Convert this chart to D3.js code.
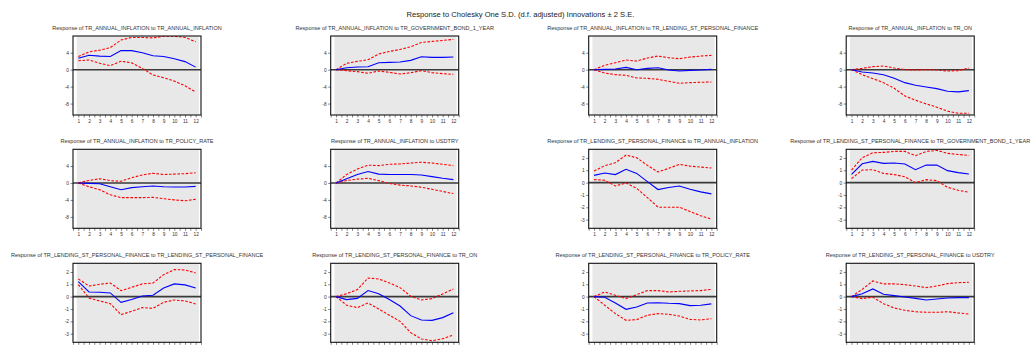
<!DOCTYPE html>
<html>
<head>
<meta charset="utf-8">
<script src="https://cdn.jsdelivr.net/npm/d3@7"></script>
<style>
  body { margin: 0; background: #fff; }
  svg { display: block; font-family: "Liberation Sans", Arial, sans-serif; }
</style>
</head>
<body>
<svg id="chart" width="1031" height="346"></svg>
<script>
// Impulse-response horizon (periods)
const periods = [1, 2, 3, 4, 5, 6, 7, 8, 9, 10, 11, 12];

const mainTitle = "Response to Cholesky One S.D. (d.f. adjusted) Innovations \u00b1 2 S.E.";

const panelTitles = [
  "Response of TR_ANNUAL_INFLATION to TR_ANNUAL_INFLATION",
  "Response of TR_ANNUAL_INFLATION to TR_GOVERNMENT_BOND_1_YEAR",
  "Response of TR_ANNUAL_INFLATION to TR_LENDING_ST_PERSONAL_FINANCE",
  "Response of TR_ANNUAL_INFLATION to TR_ON",
  "Response of TR_ANNUAL_INFLATION to TR_POLICY_RATE",
  "Response of TR_ANNUAL_INFLATION to USDTRY",
  "Response of TR_LENDING_ST_PERSONAL_FINANCE to TR_ANNUAL_INFLATION",
  "Response of TR_LENDING_ST_PERSONAL_FINANCE to TR_GOVERNMENT_BOND_1_YEAR",
  "Response of TR_LENDING_ST_PERSONAL_FINANCE to TR_LENDING_ST_PERSONAL_FINANCE",
  "Response of TR_LENDING_ST_PERSONAL_FINANCE to TR_ON",
  "Response of TR_LENDING_ST_PERSONAL_FINANCE to TR_POLICY_RATE",
  "Response of TR_LENDING_ST_PERSONAL_FINANCE to USDTRY"
];

// Y tick labels for the two scale families
const inflationTicks = [4, 0, -4, -8];
const lendingTicks = [2, 1, 0, -1, -2, -3];

// --- Responses of TR_ANNUAL_INFLATION ---
const infInf_resp  = [2.7, 3.4, 3.2, 3.1, 4.5, 4.5, 4.0, 3.3, 3.1, 2.6, 1.9, 0.6];
const infInf_upper = [3.1, 4.2, 4.6, 5.2, 7.0, 7.6, 7.6, 7.5, 7.9, 7.9, 7.6, 6.6];
const infInf_lower = [2.1, 2.3, 1.5, 0.95, 2.0, 1.6, 0.3, -1.25, -1.9, -2.7, -3.8, -5.3];

const infBond_resp  = [0, 0.47, 0.63, 0.7, 1.65, 1.73, 1.8, 2.2, 3.06, 2.9, 2.9, 2.98];
const infBond_upper = [0, 1.49, 1.96, 2.35, 3.69, 4.31, 4.78, 5.41, 6.43, 6.67, 6.9, 7.14];
const infBond_lower = [0, -0.24, -0.47, -0.86, -0.31, -0.63, -1.02, -0.71, -0.24, -0.71, -0.94, -1.1];

const infLend_resp  = [0, 0.08, 0.16, 0.55, 0, 0.31, 0.47, -0.08, -0.31, -0.16, -0.08, 0.08];
const infLend_upper = [0, 1.02, 1.65, 2.27, 2.04, 2.75, 3.22, 2.82, 2.59, 2.98, 3.22, 3.37];
const infLend_lower = [0, -0.78, -1.18, -1.33, -1.96, -2.04, -2.27, -2.75, -3.22, -3.06, -2.98, -2.9];

const infOn_resp  = [0, -0.55, -0.78, -1.18, -2.04, -3.06, -3.69, -4.08, -4.47, -5.1, -5.25, -4.94];
const infOn_upper = [0, 0.31, 0.71, 0.86, 0.39, 0, -0.08, 0, -0.08, -0.31, -0.24, 0.39];
const infOn_lower = [0, -1.18, -2.12, -3.06, -4.39, -6.2, -7.22, -8.08, -8.86, -9.8, -10.27, -10.27];

const infPolicy_resp  = [0, -0.1, -0.2, -0.9, -1.6, -1.1, -0.9, -0.7, -0.9, -0.95, -0.95, -0.8];
const infPolicy_upper = [0, 0.6, 1.0, 0.55, 0.4, 1.25, 1.9, 2.3, 2.0, 2.1, 2.2, 2.4];
const infPolicy_lower = [0, -0.9, -1.6, -2.8, -3.45, -3.45, -3.45, -3.4, -3.7, -4.0, -4.2, -3.85];

const infUsd_resp  = [0, 1.0, 2.0, 2.7, 2.1, 2.0, 2.0, 2.0, 1.9, 1.5, 1.1, 0.8];
const infUsd_upper = [0, 2.0, 3.3, 4.2, 4.1, 4.4, 4.5, 4.7, 4.9, 4.7, 4.4, 4.1];
const infUsd_lower = [0, 0.6, 0.9, 1.1, 0.55, -0.1, -0.5, -0.7, -1.0, -1.5, -2.0, -2.5];

// --- Responses of TR_LENDING_ST_PERSONAL_FINANCE ---
const lendInf_resp  = [0.59, 0.78, 0.65, 1.08, 0.75, 0.08, -0.56, -0.4, -0.27, -0.54, -0.75, -0.91];
const lendInf_upper = [0.94, 1.37, 1.61, 2.23, 2.02, 1.4, 0.86, 1.16, 1.48, 1.34, 1.26, 1.18];
const lendInf_lower = [0.24, 0.19, -0.27, -0.03, -0.46, -1.21, -1.99, -1.99, -1.99, -2.34, -2.69, -2.96];

const lendBond_resp  = [0.67, 1.53, 1.72, 1.56, 1.59, 1.51, 1.05, 1.42, 1.42, 0.97, 0.81, 0.7];
const lendBond_upper = [1.02, 2.02, 2.42, 2.45, 2.53, 2.53, 2.18, 2.53, 2.61, 2.37, 2.28, 2.2];
const lendBond_lower = [0.32, 1.02, 1.05, 0.75, 0.65, 0.48, 0.0, 0.24, 0.16, -0.38, -0.62, -0.78];

const lendLend_resp  = [1.22, 0.38, 0.35, 0.3, -0.46, -0.24, 0.05, 0.11, 0.7, 1.03, 0.95, 0.7];
const lendLend_upper = [1.43, 0.86, 1.0, 1.1, 0.49, 0.76, 1.03, 1.1, 1.78, 2.19, 2.16, 1.92];
const lendLend_lower = [0.97, -0.11, -0.35, -0.57, -1.46, -1.19, -0.89, -0.95, -0.46, -0.27, -0.35, -0.59];

const lendOn_resp  = [0, -0.24, -0.14, 0.49, 0.24, -0.24, -0.76, -1.54, -1.89, -1.92, -1.7, -1.3];
const lendOn_upper = [0, 0.24, 0.57, 1.51, 1.43, 1.11, 0.73, 0.03, -0.27, -0.16, 0.22, 0.62];
const lendOn_lower = [0, -0.7, -0.89, -0.51, -1.0, -1.51, -2.0, -2.92, -3.43, -3.57, -3.41, -3.11];

const lendPolicy_resp  = [0, -0.05, -0.51, -1.03, -0.84, -0.51, -0.49, -0.54, -0.57, -0.73, -0.7, -0.59];
const lendPolicy_upper = [0, 0.38, 0.11, -0.16, 0.16, 0.49, 0.49, 0.38, 0.43, 0.46, 0.49, 0.59];
const lendPolicy_lower = [0, -0.7, -1.38, -1.92, -1.86, -1.51, -1.38, -1.43, -1.57, -1.84, -1.89, -1.78];

const lendUsd_resp  = [0, 0.24, 0.62, 0.19, 0.08, -0.03, -0.14, -0.27, -0.19, -0.11, -0.08, -0.08];
const lendUsd_upper = [0, 0.59, 1.27, 1.03, 1.03, 0.97, 0.86, 0.73, 0.86, 1.05, 1.13, 1.16];
const lendUsd_lower = [0, -0.16, -0.05, -0.57, -0.92, -1.11, -1.22, -1.27, -1.27, -1.22, -1.32, -1.41];

// Panels in reading order (row by row)
const panels = [
  { title: panelTitles[0],  ticks: inflationTicks, resp: infInf_resp,     upper: infInf_upper,     lower: infInf_lower },
  { title: panelTitles[1],  ticks: inflationTicks, resp: infBond_resp,    upper: infBond_upper,    lower: infBond_lower },
  { title: panelTitles[2],  ticks: inflationTicks, resp: infLend_resp,    upper: infLend_upper,    lower: infLend_lower },
  { title: panelTitles[3],  ticks: inflationTicks, resp: infOn_resp,      upper: infOn_upper,      lower: infOn_lower },
  { title: panelTitles[4],  ticks: inflationTicks, resp: infPolicy_resp,  upper: infPolicy_upper,  lower: infPolicy_lower },
  { title: panelTitles[5],  ticks: inflationTicks, resp: infUsd_resp,     upper: infUsd_upper,     lower: infUsd_lower },
  { title: panelTitles[6],  ticks: lendingTicks,   resp: lendInf_resp,    upper: lendInf_upper,    lower: lendInf_lower },
  { title: panelTitles[7],  ticks: lendingTicks,   resp: lendBond_resp,   upper: lendBond_upper,   lower: lendBond_lower },
  { title: panelTitles[8],  ticks: lendingTicks,   resp: lendLend_resp,   upper: lendLend_upper,   lower: lendLend_lower },
  { title: panelTitles[9],  ticks: lendingTicks,   resp: lendOn_resp,     upper: lendOn_upper,     lower: lendOn_lower },
  { title: panelTitles[10], ticks: lendingTicks,   resp: lendPolicy_resp, upper: lendPolicy_upper, lower: lendPolicy_lower },
  { title: panelTitles[11], ticks: lendingTicks,   resp: lendUsd_resp,    upper: lendUsd_upper,    lower: lendUsd_lower }
];

// Layout of the 3 x 4 grid
const colLeft = [73, 330.7, 588.7, 846.2];
const rowTop = [36, 149.3, 263.3];
const frameW = 128;
const frameH = 79;
const inflationDomain = [-10.7, 7.95];
const lendingDomain = [-3.7, 2.7];
const fontStack = "Liberation Sans, Arial, sans-serif";

const svg = d3.select("#chart");

svg.append("text")
  .attr("x", 520.5)
  .attr("y", 16.5)
  .attr("text-anchor", "middle")
  .attr("font-size", 7.6)
  .attr("fill", "#222")
  .text(mainTitle);

panels.forEach((p, i) => {
  const left = colLeft[i % 4];
  const top = rowTop[Math.floor(i / 4)];
  const g = svg.append("g").attr("transform", `translate(${left},${top})`);

  const x = d3.scaleLinear().domain([0.5, 12.5]).range([0, frameW]);
  const y = d3.scaleLinear()
    .domain(p.ticks === inflationTicks ? inflationDomain : lendingDomain)
    .range([frameH, 0]);

  // panel title
  g.append("text")
    .attr("x", frameW / 2)
    .attr("y", -6)
    .attr("text-anchor", "middle")
    .attr("font-size", 5.55)
    .attr("fill", "#333")
    .text(p.title);

  // white frame with grey plotting band
  g.append("rect")
    .attr("x", 0).attr("y", 0)
    .attr("width", frameW).attr("height", frameH)
    .attr("fill", "#fff");
  g.append("rect")
    .attr("x", x(0.85)).attr("y", 0)
    .attr("width", x(12.3) - x(0.85)).attr("height", frameH)
    .attr("fill", "#e8e8e8");

  // axes
  const yAxis = d3.axisLeft(y).tickValues(p.ticks).tickSize(2.5).tickPadding(1.5)
    .tickFormat(d => String(d));
  const gy = g.append("g").call(yAxis);
  gy.select(".domain").remove();
  gy.selectAll("line").attr("stroke", "#333").attr("stroke-width", 0.6);
  gy.selectAll("text").attr("font-size", 4.8).attr("fill", "#333").attr("font-family", fontStack);

  const halfSteps = d3.range(0.5, 12.51, 0.5);
  const xAxis = d3.axisBottom(x).tickValues(halfSteps).tickSize(2.5).tickPadding(2)
    .tickFormat(d => Number.isInteger(d) ? String(d) : "");
  const gx = g.append("g").attr("transform", `translate(0,${frameH})`).call(xAxis);
  gx.select(".domain").remove();
  gx.selectAll("line").attr("stroke", "#333").attr("stroke-width", 0.6);
  gx.selectAll("text").attr("font-size", 4.8).attr("fill", "#333").attr("font-family", fontStack);

  // zero reference line
  g.append("line")
    .attr("x1", 0).attr("x2", frameW)
    .attr("y1", y(0)).attr("y2", y(0))
    .attr("stroke", "#3a3a3a").attr("stroke-width", 1.6);

  const line = d3.line()
    .x((d, k) => x(periods[k]))
    .y(d => y(d));

  const clipId = `clip${i}`;
  g.append("clipPath").attr("id", clipId)
    .append("rect").attr("width", frameW).attr("height", frameH);
  const plot = g.append("g").attr("clip-path", `url(#${clipId})`);

  [p.upper, p.lower].forEach(band => {
    plot.append("path")
      .datum(band)
      .attr("d", line)
      .attr("fill", "none")
      .attr("stroke", "#ff0000")
      .attr("stroke-width", 1.1)
      .attr("stroke-dasharray", "2.6,1.6");
  });

  plot.append("path")
    .datum(p.resp)
    .attr("d", line)
    .attr("fill", "none")
    .attr("stroke", "#0000ff")
    .attr("stroke-width", 1.1);

  // frame border
  g.append("rect")
    .attr("x", 0).attr("y", 0)
    .attr("width", frameW).attr("height", frameH)
    .attr("fill", "none")
    .attr("stroke", "#111")
    .attr("stroke-width", 1.1);
});
</script>
</body>
</html>
